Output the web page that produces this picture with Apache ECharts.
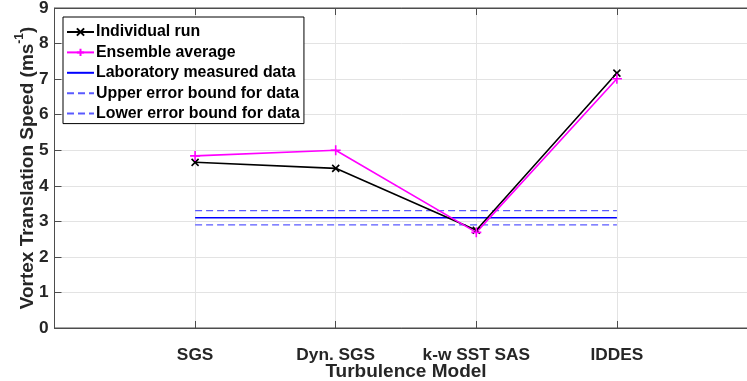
<!DOCTYPE html>
<html>
<head>
<meta charset="utf-8">
<script src="https://cdn.jsdelivr.net/npm/echarts@6/dist/echarts.min.js"></script>
<style>
  html, body { margin: 0; padding: 0; background: #fff; }
  #chart { width: 747px; height: 381px; }
</style>
</head>
<body>
<div id="chart"></div>
<script>
// Turbulence models compared on the x axis
const models = ['SGS', 'Dyn. SGS', 'k-w SST SAS', 'IDDES'];
// Vortex translation speed (m/s) per model
const individualRun = [4.66, 4.49, 2.75, 7.17];
const ensembleAverage = [4.84, 5.00, 2.69, 7.01];
// Laboratory reference value and its error band
const labMeasured = [3.10, 3.10, 3.10, 3.10];
const upperBound = [3.30, 3.30, 3.30, 3.30];
const lowerBound = [2.90, 2.90, 2.90, 2.90];
const yTicks = [0, 1, 2, 3, 4, 5, 6, 7, 8, 9];

const FONT = '"Liberation Sans", Arial, Helvetica, sans-serif';
const AXIS_COLOR = '#4d4d4d';
const GRID_COLOR = '#e3e3e3';

// models sit at x = 1..4 on a 0..5 numeric axis
const pts = arr => arr.map((v, i) => [i + 1, v]);

const crossPath = 'path://M0,0L10,10M10,0L0,10';
const plusPath = 'path://M5,0L5,10M0,5L10,5';

const chart = echarts.init(document.getElementById('chart'), null, { renderer: 'canvas' });

// plain lines in the legend: hide the default symbol
const lineOnly = { itemStyle: { opacity: 0 } };

chart.setOption({
  animation: false,
  backgroundColor: '#ffffff',
  grid: {
    left: 54.5, top: 8, width: 703, height: 320,
    outerBoundsMode: 'none', containLabel: false,
    show: true, borderColor: AXIS_COLOR, borderWidth: 1, backgroundColor: '#ffffff'
  },
  xAxis: [{
    type: 'value', min: 0, max: 5, interval: 1,
    name: 'Turbulence Model', nameLocation: 'middle', nameGap: 34, nameMoveOverlap: false,
    nameTextStyle: { fontFamily: FONT, fontWeight: 'bold', fontSize: 19, color: '#262626' },
    axisLine: { show: true, lineStyle: { color: AXIS_COLOR, width: 1 } },
    axisTick: { show: true, inside: true, length: 7, lineStyle: { color: AXIS_COLOR } },
    axisLabel: {
      margin: 19, fontFamily: FONT, fontWeight: 'bold', fontSize: 17.3, color: '#262626',
      formatter: v => models[v - 1] || ''
    },
    splitLine: { show: true, lineStyle: { color: GRID_COLOR, width: 1 } }
  }, {
    type: 'value', min: 0, max: 5, interval: 1, position: 'top',
    axisLine: { show: true, lineStyle: { color: AXIS_COLOR, width: 1 } },
    axisTick: { show: true, inside: true, length: 7, lineStyle: { color: AXIS_COLOR } },
    axisLabel: { show: false },
    splitLine: { show: false }
  }],
  yAxis: {
    type: 'value', min: yTicks[0], max: yTicks[yTicks.length - 1], interval: 1,
    name: '{a|Vortex Translation Speed (ms}{s|-1}{a|)}',
    nameLocation: 'middle', nameGap: 17, nameRotate: 90, nameMoveOverlap: false,
    nameTextStyle: {
      fontFamily: FONT, fontWeight: 'bold', fontSize: 19, color: '#262626',
      rich: {
        a: { fontFamily: FONT, fontWeight: 'bold', fontSize: 19, color: '#262626', lineHeight: 24, verticalAlign: 'bottom' },
        s: { fontFamily: FONT, fontWeight: 'bold', fontSize: 12, color: '#262626', lineHeight: 24, verticalAlign: 'top' }
      }
    },
    axisLine: { show: true, lineStyle: { color: AXIS_COLOR, width: 1 } },
    axisTick: { show: true, inside: true, length: 7, lineStyle: { color: AXIS_COLOR } },
    axisLabel: { margin: 6, fontFamily: FONT, fontWeight: 'bold', fontSize: 17.3, color: '#262626' },
    splitLine: { show: true, lineStyle: { color: GRID_COLOR, width: 1 } }
  },
  legend: {
    orient: 'vertical', left: 63, top: 17,
    backgroundColor: '#ffffff', borderColor: '#000000', borderWidth: 1,
    padding: [7, 4, 2, 3],
    itemWidth: 27, itemHeight: 9, itemGap: 4.4,
    textStyle: { fontFamily: FONT, fontWeight: 'bold', fontSize: 15.9, color: '#000000', padding: [0, 0, 0, -3] },
    data: [
      { name: 'Individual run' },
      { name: 'Ensemble average' },
      Object.assign({ name: 'Laboratory measured data' }, lineOnly),
      Object.assign({ name: 'Upper error bound for data' }, lineOnly),
      Object.assign({ name: 'Lower error bound for data' }, lineOnly)
    ]
  },
  series: [{
    name: 'Laboratory measured data', type: 'line', data: pts(labMeasured),
    symbol: 'none', lineStyle: { color: '#0000ff', width: 1.6 }, itemStyle: { color: '#0000ff' }
  }, {
    name: 'Upper error bound for data', type: 'line', data: pts(upperBound),
    symbol: 'none', lineStyle: { color: '#5a5aff', width: 1.3, type: [7, 4] }, itemStyle: { color: '#5a5aff' }
  }, {
    name: 'Lower error bound for data', type: 'line', data: pts(lowerBound),
    symbol: 'none', lineStyle: { color: '#5a5aff', width: 1.3, type: [7, 4] }, itemStyle: { color: '#5a5aff' }
  }, {
    name: 'Individual run', type: 'line', data: pts(individualRun),
    symbol: crossPath, symbolSize: 7, showAllSymbol: true,
    lineStyle: { color: '#000000', width: 1.6 },
    itemStyle: { color: 'transparent', borderColor: '#000000', borderWidth: 1.6 }
  }, {
    name: 'Ensemble average', type: 'line', data: pts(ensembleAverage),
    symbol: plusPath, symbolSize: 10, showAllSymbol: true,
    lineStyle: { color: '#ff00ff', width: 1.6 },
    itemStyle: { color: 'transparent', borderColor: '#ff00ff', borderWidth: 1.6 }
  }]
});
</script>
</body>
</html>
